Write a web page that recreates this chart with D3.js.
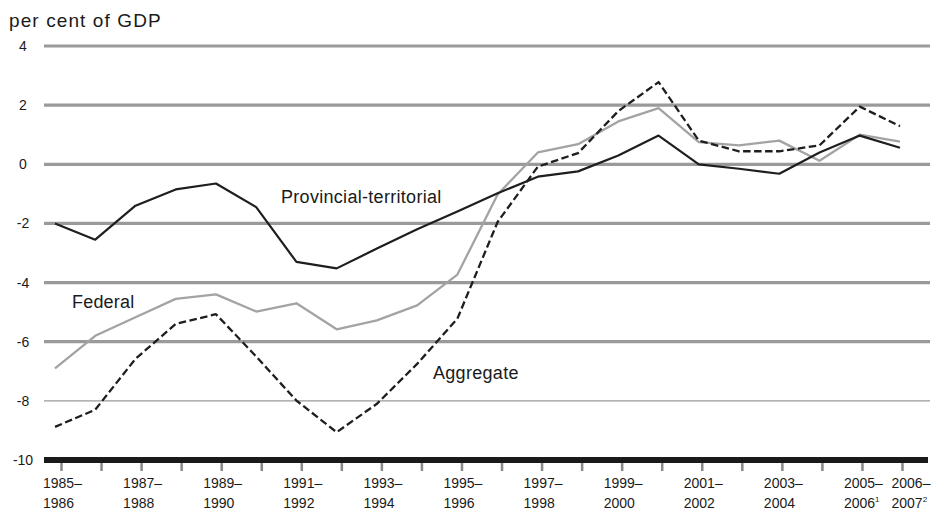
<!DOCTYPE html>
<html>
<head>
<meta charset="utf-8">
<script src="https://cdn.jsdelivr.net/npm/d3@7"></script>
<style>
  html, body { margin: 0; padding: 0; background: #fff; }
  svg { display: block; font-family: "Liberation Sans", Arial, Helvetica, sans-serif; }
</style>
</head>
<body>
<svg id="chart" width="931" height="510"></svg>
<script>
// ---- data ----
const periods = ["1985-1986","1986-1987","1987-1988","1988-1989","1989-1990","1990-1991","1991-1992","1992-1993","1993-1994","1994-1995","1995-1996","1996-1997","1997-1998","1998-1999","1999-2000","2000-2001","2001-2002","2002-2003","2003-2004","2004-2005","2005-2006","2006-2007"];
const provincial = [-2.0,-2.55,-1.4,-0.85,-0.65,-1.45,-3.3,-3.52,-2.85,-2.2,-1.6,-0.98,-0.42,-0.24,0.3,0.97,0.0,-0.15,-0.32,0.4,0.97,0.56];
const federal    = [-6.9,-5.8,-5.17,-4.55,-4.4,-4.98,-4.7,-5.58,-5.28,-4.77,-3.73,-1.02,0.4,0.68,1.45,1.9,0.75,0.64,0.8,0.12,1.0,0.77];
const aggregate  = [-8.88,-8.3,-6.58,-5.4,-5.07,-6.5,-7.99,-9.06,-8.1,-6.75,-5.22,-1.95,-0.08,0.38,1.8,2.78,0.8,0.44,0.44,0.64,1.95,1.29];
const yTicks = [4,2,0,-2,-4,-6,-8,-10];
const xLabelIdx = [0,2,4,6,8,10,12,14,16,18,20,21];
const xLabels = [["1985–","1986"],["1987–","1988"],["1989–","1990"],["1991–","1992"],["1993–","1994"],["1995–","1996"],["1997–","1998"],["1999–","2000"],["2001–","2002"],["2003–","2004"],["2005–","2006","1"],["2006–","2007","2"]];
const yTitle = "per cent of GDP";
const seriesLabels = ["Provincial-territorial","Federal","Aggregate"];

// ---- drawing ----
const svg = d3.select("#chart");
const idx = d3.range(periods.length);
const x = d3.scalePoint().domain(idx).range([55, 900]);
const xTick = d3.scalePoint().domain(idx).range([61, 902]);
const y = d3.scaleLinear().domain([-10, 4]).range([460, 46]);
const gridLeft = 44, gridRight = 930;

// title
svg.append("text").attr("x", 9).attr("y", 27)
  .attr("font-size", 19).attr("letter-spacing", 1.1).attr("fill", "#1a1a1a")
  .text(yTitle);

// gridlines
svg.append("g").selectAll("line").data(yTicks.filter(v => v > -10)).join("line")
  .attr("x1", gridLeft).attr("x2", gridRight)
  .attr("y1", d => y(d)).attr("y2", d => y(d))
  .attr("stroke", "#9a9a9a")
  .attr("stroke-width", d => d === -8 ? 1.4 : 3.2);

// y labels
svg.append("g").selectAll("text").data(yTicks).join("text")
  .attr("x", 23).attr("y", d => y(d)).attr("dy", "0.36em")
  .attr("text-anchor", "middle").attr("font-size", 14).attr("fill", "#1a1a1a")
  .text(d => d);

// x axis ticks (via d3 axis)
const axisG = svg.append("g").attr("transform", `translate(0,${y(-10) + 3})`)
  .call(d3.axisBottom(xTick).tickSize(8).tickFormat(""));
axisG.select(".domain").remove();
axisG.selectAll(".tick line").attr("stroke", "#888").attr("stroke-width", 2.5);

// axis bar
svg.append("line").attr("x1", gridLeft).attr("x2", 928)
  .attr("y1", y(-10)).attr("y2", y(-10))
  .attr("stroke", "#1a1a1a").attr("stroke-width", 6);

// x labels
const lab = svg.append("g").selectAll("text").data(xLabelIdx).join("text")
  .attr("font-size", 14).attr("fill", "#1a1a1a");
lab.each(function(d, i) {
  const t = d3.select(this);
  const L = xLabels[i];
  const xx = xTick(d) - (d === 21 ? 10.5 : 18);
  t.append("tspan").attr("x", xx).attr("y", 488).text(L[0]);
  t.append("tspan").attr("x", xx).attr("y", 508).text(L[1]);
  if (L[2]) t.append("tspan").attr("font-size", 8).attr("dy", -6).text(L[2]);
});

// lines
const line = d3.line().x((d, i) => x(i)).y(d => y(d));
svg.append("path").datum(federal).attr("d", line)
  .attr("fill", "none").attr("stroke", "#a3a3a3").attr("stroke-width", 2.3).attr("stroke-linejoin", "round");
svg.append("path").datum(provincial).attr("d", line)
  .attr("fill", "none").attr("stroke", "#1e1e1e").attr("stroke-width", 2.2).attr("stroke-linejoin", "round");
svg.append("path").datum(aggregate).attr("d", line)
  .attr("fill", "none").attr("stroke", "#1e1e1e").attr("stroke-width", 2.3)
  .attr("stroke-dasharray", "7.5,3.5").attr("stroke-linejoin", "round");

// series labels
const labelPos = [[281, 203, 0.3],[72, 308, 0.2],[433, 379, 0.3]];
svg.append("g").selectAll("text").data(seriesLabels).join("text")
  .attr("x", (d, i) => labelPos[i][0]).attr("y", (d, i) => labelPos[i][1])
  .attr("letter-spacing", (d, i) => labelPos[i][2])
  .attr("font-size", 18).attr("fill", "#1a1a1a")
  .text(d => d);
</script>
</body>
</html>
